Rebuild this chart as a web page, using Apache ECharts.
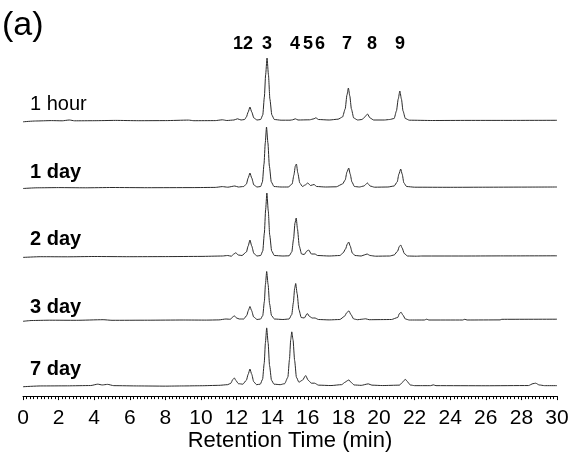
<!DOCTYPE html>
<html>
<head>
<meta charset="utf-8">
<script src="https://cdn.jsdelivr.net/npm/echarts@6/dist/echarts.min.js"></script>
<style>
  html, body { margin: 0; padding: 0; background: #fff; }
  #chart { width: 574px; height: 453px; }
</style>
</head>
<body>
<div id="chart"></div>
<script>
// sample names, top to bottom
const traceNames = ['1 hour', '1 day', '2 day', '3 day', '7 day']

// peak labels over the top trace, with retention times (min)
const peakNames = ['1', '2', '3', '4', '5', '6', '7', '8', '9']
const peakTimes = [12.08, 12.64, 13.71, 15.28, 16.01, 16.69, 18.2, 19.61, 21.18]

// x axis ticks (min)
const timeTicks = [0, 2, 4, 6, 8, 10, 12, 14, 16, 18, 20, 22, 24, 26, 28, 30]

// chromatograms: [retention time (min), signal (a.u.)]
const hour1 = [
  [0, -0.8], [0.7, 0], [1.6, 0.4], [2.2, 0.2], [2.6, 1], [2.9, 0.2], [4, 0.3], [5.2, 0.6], [6.5, 0.3], [8, 0.4],
  [9.3, 0.9], [9.6, 0.3], [10.8, 0.4], [11.2, 1.2], [11.45, 0.5], [11.85, 1], [12.05, 2.2], [12.25, 1], [12.45, 1.5],
  [12.55, 4], [12.65, 9], [12.75, 14], [12.85, 9], [12.97, 3], [13.15, 1], [13.35, 1.5],
  [13.47, 6], [13.56, 24], [13.63, 46], [13.71, 63], [13.79, 46], [13.87, 22], [13.98, 6], [14.12, 1.5], [14.5, 0.8], [15.0, 0.8],
  [15.15, 1.2], [15.3, 2.2], [15.45, 1], [16.1, 1.2],
  [16.35, 2.2], [16.45, 3.2], [16.6, 1.5], [17.2, 1], [17.7, 1.8], [17.95, 4],
  [18.1, 12], [18.2, 26], [18.28, 33], [18.36, 25], [18.45, 12], [18.58, 3], [18.8, 1], [19.05, 1.5],
  [19.2, 4], [19.35, 7], [19.5, 3], [19.7, 1], [20.3, 1], [20.6, 1.5], [20.85, 2.5],
  [20.98, 10], [21.08, 22], [21.17, 30], [21.26, 22], [21.35, 10], [21.48, 2.5], [21.7, 0.8],
  [23, 0.5], [25, 0.6], [27, 0.6], [30, 0.7]
]
const day1 = [
  [0, -0.5], [0.8, 0.2], [2, 0.4], [3.5, 0.2], [5, 0.5], [7, 0.3], [9.5, 0.4], [10.8, 0.6], [11.2, 1.4], [11.5, 0.8],
  [11.9, 2], [12.1, 1], [12.4, 1.5],
  [12.55, 4], [12.65, 10], [12.75, 15], [12.85, 10], [12.97, 3], [13.15, 1], [13.35, 1.5],
  [13.45, 6], [13.54, 24], [13.61, 45], [13.68, 61], [13.76, 45], [13.84, 22], [13.95, 6], [14.1, 1.5], [14.5, 1], [14.9, 1],
  [15.12, 4], [15.22, 13], [15.3, 22], [15.36, 24], [15.44, 15], [15.55, 5], [15.7, 1.5],
  [15.85, 3], [16.0, 5], [16.15, 2.5], [16.35, 3.5], [16.5, 1.5], [17.0, 1], [17.6, 1.2], [17.95, 4],
  [18.1, 8], [18.2, 16], [18.3, 20], [18.38, 14], [18.48, 6], [18.62, 1.5], [18.9, 1], [19.15, 2],
  [19.35, 5], [19.5, 2], [19.75, 0.8], [20.5, 1], [20.85, 2],
  [21.02, 6], [21.12, 14], [21.22, 19], [21.3, 14], [21.4, 5], [21.55, 1.5], [22, 0.8],
  [24, 0.7], [26, 0.8], [28, 0.9], [30, 1]
]
const day2 = [
  [0, -0.4], [1, 0.3], [2.5, 0.2], [4, 0.5], [6, 0.3], [8, 0.4], [10, 0.6], [11.2, 1], [11.5, 1.5], [11.7, 0.8],
  [11.85, 3], [11.95, 4.2], [12.1, 2], [12.3, 1.5],
  [12.55, 5], [12.65, 11], [12.75, 17], [12.85, 11], [12.97, 3.5], [13.15, 1], [13.35, 1.5],
  [13.47, 6], [13.56, 24], [13.63, 47], [13.7, 64], [13.78, 46], [13.86, 22], [13.97, 6], [14.12, 1.5], [14.6, 1], [14.95, 1.2],
  [15.1, 5], [15.2, 18], [15.28, 34], [15.35, 39], [15.42, 28], [15.52, 11], [15.65, 3], [15.8, 2.5],
  [15.95, 6], [16.05, 7], [16.2, 3], [16.4, 3], [16.55, 1.5], [17.2, 1], [17.8, 1.5], [17.98, 4],
  [18.12, 8], [18.22, 13], [18.3, 15], [18.38, 11], [18.5, 4], [18.65, 1.5], [19, 1],
  [19.2, 2.2], [19.33, 3], [19.5, 1.5], [19.8, 0.8], [20.6, 1], [20.85, 2],
  [21.05, 6], [21.14, 10.5], [21.22, 12], [21.3, 9], [21.42, 3.5], [21.6, 1], [22.1, 0.8], [22.4, 1],
  [25, 1], [27, 1.1], [30, 1.2]
]
const day3 = [
  [0, -0.8], [0.5, 0], [1.5, 0.3], [3, 0.2], [4.5, 0.8], [5, 0.2], [7, 0.3], [9, 0.5], [10.3, 0.4], [11, 0.6],
  [11.4, 1.5], [11.65, 1.2], [11.78, 3.5], [11.87, 4.7], [12.0, 2.5], [12.15, 1.5], [12.4, 1.5],
  [12.57, 5], [12.66, 10], [12.75, 14], [12.84, 10], [12.96, 3.5], [13.15, 1], [13.35, 1.5],
  [13.47, 5], [13.56, 19], [13.62, 36], [13.69, 49], [13.77, 36], [13.85, 17], [13.96, 5], [14.12, 1.5], [14.6, 1], [14.95, 1.5],
  [15.1, 6], [15.19, 18], [15.26, 32], [15.32, 37], [15.4, 27], [15.5, 11], [15.63, 3], [15.8, 2.5],
  [15.97, 7], [16.1, 4], [16.25, 2.5], [16.4, 2.5], [16.6, 1], [17.2, 0.6], [17.8, 1], [18.05, 4],
  [18.2, 8], [18.31, 9.7], [18.42, 6], [18.58, 1.5], [18.8, 0.8], [19.0, 1.2], [19.25, 1.7], [19.45, 0.8], [20.7, 1],
  [21.05, 3], [21.15, 7], [21.24, 8.3], [21.34, 5.5], [21.48, 1.5], [21.7, 0.5],
  [22.55, 0.5], [22.68, 1.3], [22.8, 0.5], [24.7, 0.5], [24.82, 1.2], [24.95, 0.5], [26.8, 0.6], [26.9, 1.2], [30, 1.3]
]
const day7 = [
  [0, -0.6], [1, 0.2], [2.5, 0.3], [3.8, 0.6], [4.2, 2], [4.45, 1.2], [4.75, 1.8], [5.1, 0.5], [6.5, 0.2], [8, 0],
  [9, 0.2], [10, 0.4], [11, 0.8], [11.5, 1.5], [11.68, 3],
  [11.78, 6.5], [11.87, 8.3], [11.97, 5.5], [12.1, 2.5], [12.35, 2],
  [12.55, 6], [12.65, 12], [12.75, 17.3], [12.85, 12], [12.96, 4.5], [13.12, 1.5], [13.33, 2],
  [13.46, 7], [13.55, 23], [13.62, 44], [13.69, 59], [13.77, 44], [13.85, 21], [13.96, 6], [14.1, 2], [14.45, 1.5], [14.7, 2.5],
  [14.88, 9], [14.97, 27], [15.04, 47], [15.1, 55], [15.17, 47], [15.26, 26], [15.36, 9], [15.5, 4],
  [15.7, 6], [15.88, 10.7], [16.02, 6], [16.2, 3], [16.38, 3], [16.6, 1], [17.3, 0.6], [17.9, 1.5], [18.1, 4],
  [18.22, 5.5], [18.31, 6.3], [18.42, 4], [18.6, 1.2], [19.0, 0.8], [19.4, 2.3], [19.6, 1], [20.2, 0.6], [21.15, 1],
  [21.3, 3.5], [21.42, 6], [21.5, 6.7], [21.6, 4.5], [21.75, 1.2], [22.0, 0.5],
  [22.9, 0.5], [23.05, 1.3], [23.2, 0.5], [26, 0.4], [28.4, 0.6], [28.65, 2.5], [28.8, 3], [29.0, 1.2], [29.3, 0.5], [30, 0.5]
]
const traces = [hour1, day1, day2, day3, day7]

// layout: pixel baseline of each trace
const baselines = [121, 188, 257, 320.5, 387]
const labelY = [105, 173, 240, 308, 370]
const FONT = '"Liberation Sans", Arial, sans-serif'

let chart = echarts.init(document.getElementById('chart'), null, { renderer: 'canvas' })

const grids = baselines.map(b => ({ left: 23, right: 17, top: b - 67, height: 70 }))
const xAxes = baselines.map((b, i) => {
  const last = i === baselines.length - 1
  return {
    type: 'value',
    gridIndex: i,
    min: timeTicks[0],
    max: timeTicks[timeTicks.length - 1],
    interval: timeTicks[1] - timeTicks[0],
    show: last,
    offset: 7,
    axisLine: { show: true, onZero: false, lineStyle: { color: '#000', width: 1 } },
    axisTick: { show: true, length: 4, lineStyle: { color: '#000' } },
    minorTick: { show: true, splitNumber: 10, length: 3, lineStyle: { color: '#000' } },
    splitLine: { show: false },
    axisLabel: { color: '#000', fontSize: 21, fontFamily: FONT, margin: 12 },
    name: last ? 'Retention Time (min)' : '',
    nameLocation: 'middle',
    nameGap: 29,
    nameTextStyle: { color: '#000', fontSize: 22, fontFamily: FONT },
  }
})
const yAxes = baselines.map((b, i) => ({
  type: 'value', gridIndex: i, min: -3, max: 67, show: false,
}))

const series = traces.map((d, i) => ({
  name: traceNames[i],
  type: 'line',
  xAxisIndex: i,
  yAxisIndex: i,
  data: d,
  showSymbol: false,
  smooth: 0.2,
  smoothMonotone: 'x',
  lineStyle: { color: '#2a2a2a', width: 1 },
}))

const texts = traceNames.map((n, i) => ({
  type: 'text',
  left: 30,
  top: labelY[i] - 11,
  style: {
    text: n,
    fill: '#000',
    font: (i === 0 ? 'normal' : 'bold') + ' 20px ' + FONT,
  },
}))
texts.push({
  type: 'text',
  left: 2,
  top: 9,
  style: { text: '(a)', fill: '#000', font: 'normal 34px ' + FONT },
})

chart.setOption({
  animation: false,
  backgroundColor: '#fff',
  grid: grids,
  xAxis: xAxes,
  yAxis: yAxes,
  series: series,
  graphic: texts,
})

// peak numbers placed at their retention times on the shared time scale
const peakTexts = peakNames.map((p, i) => ({
  type: 'text',
  x: chart.convertToPixel({ xAxisIndex: 0 }, peakTimes[i]),
  y: 44,
  style: {
    text: p,
    fill: '#000',
    font: 'bold 18px ' + FONT,
    align: 'center',
    verticalAlign: 'middle',
  },
}))
chart.setOption({ graphic: texts.concat(peakTexts) })
</script>
</body>
</html>
